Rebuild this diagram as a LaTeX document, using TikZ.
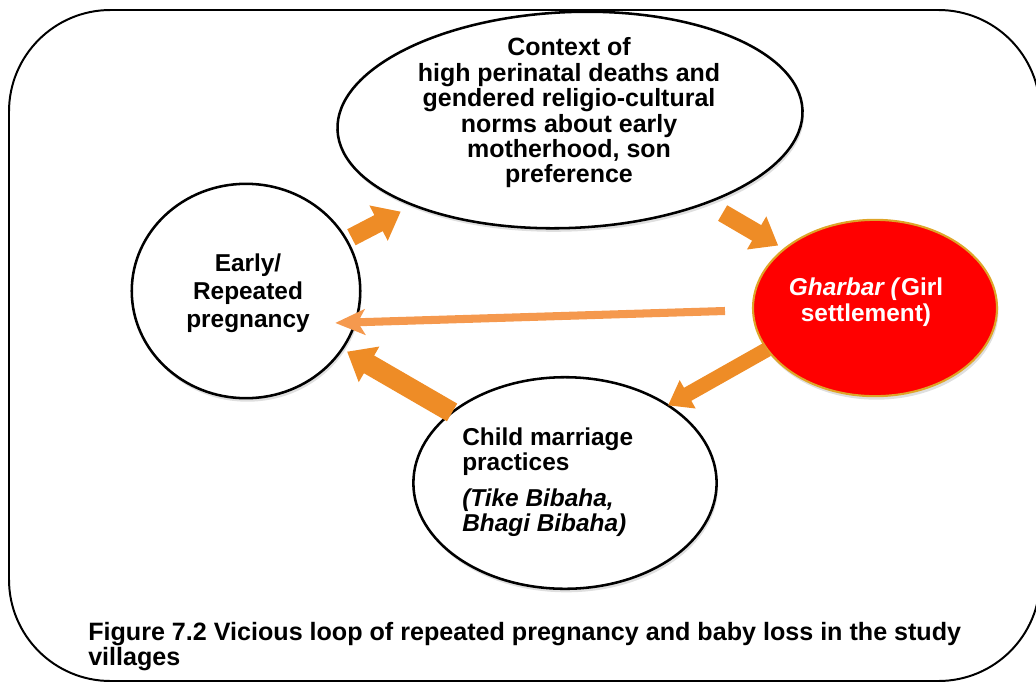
\documentclass[tikz,border=0pt]{standalone}
\usepackage{fontspec}
\setmainfont{Liberation Sans}
\usetikzlibrary{arrows.meta, shapes.geometric, shadows}

\definecolor{arroworange}{RGB}{238,140,38}
\definecolor{lineorange}{RGB}{245,153,78}
\definecolor{gharbarred}{RGB}{255,0,0}
\definecolor{gharbargold}{RGB}{222,165,40}

\tikzset{
  bubble/.style={ellipse, draw=black, line width=1.8pt, fill=white, inner sep=0pt, outer sep=0pt,
    drop shadow={shadow xshift=1pt, shadow yshift=-2.5pt, opacity=0.25}},
  bubbletext/.style={font=\bfseries\fontsize{17.3}{#1}\selectfont, align=center, inner sep=0pt},
  blockarrow/.style n args={3}{draw=arroworange, line width=#1, -{Triangle[length=#2, width=#3]}},
}

\begin{document}
\begin{tikzpicture}[x=0.709pt, y=-0.709pt]
\useasboundingbox (0,0) rectangle (1036,683);
\clip (0,0) rectangle (1036,683);
\draw[line width=1.4pt, rounded corners=72pt] (9,10) rectangle (1040,681);

\node [bubble, minimum width=330pt, minimum height=153pt, rotate=2.5] (context) at (570,120) {};
\node [bubble, minimum width=162pt, minimum height=152pt] (early) at (246,291) {};
\node [bubble, minimum width=215pt, minimum height=150pt] (child) at (565,483) {};
\node [ellipse, fill=gharbarred, draw=gharbargold, line width=1.5pt, inner sep=0pt, outer sep=0pt,
  minimum width=173pt, minimum height=125pt,
  drop shadow={shadow xshift=1pt, shadow yshift=-2.5pt, opacity=0.25}] (gharbar) at (875,308) {};

\node [bubbletext=18, font=\bfseries\fontsize{17.7}{18}\selectfont] (contexttext) at (569,113) {Context of\\high perinatal deaths and\\gendered religio-cultural\\norms about early\\motherhood, son\\preference};
\node [bubbletext=20] (earlytext) at (248,293) {Early/\\Repeated\\pregnancy};
\node [bubbletext=18.4, text=white] (gharbartext) at (866,302) {\textit{Gharbar (}Girl\\settlement)};
\node [bubbletext=17.6, align=left, anchor=north west] (childtext) at (462,428) {Child marriage\\practices\\[8pt]\textit{(Tike Bibaha,}\\\textit{Bhagi Bibaha)}};

\draw [blockarrow={12.8pt}{17.7pt}{27pt}, shorten <=4pt, shorten >=10pt] (early.27) -- (context.206);
\draw [blockarrow={12.8pt}{17.7pt}{26pt}, shorten <=14pt, shorten >=5pt] (context.-34) -- (gharbar.147.7);
\draw [blockarrow={10.6pt}{16pt}{22pt}] (gharbar.201.8) -- (child.37);
\draw [blockarrow={14.5pt}{18pt}{28pt}, shorten >=4pt] (child.148) -- (early.-31);
\draw [draw=lineorange, line width=5.7pt, -{Stealth[length=21pt, width=18pt, inset=5pt]},
  shorten <=19.9pt, shorten >=-14.2pt] (gharbar.181) -- (early.-16);

\node [font=\bfseries\fontsize{17.8}{17.7}\selectfont, align=left, anchor=north west, inner sep=0pt] (caption) at (88,622)
  {Figure 7.2 Vicious loop of repeated pregnancy and baby loss in the study\\villages};
\end{tikzpicture}
\end{document}
